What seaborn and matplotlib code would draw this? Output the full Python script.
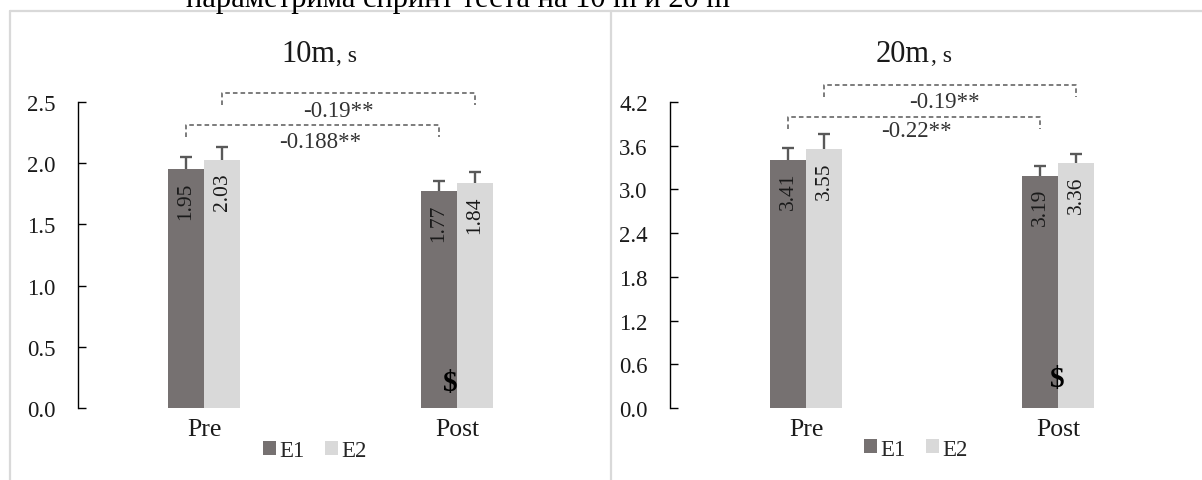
import numpy as np
import pandas as pd
import seaborn as sns
import matplotlib
matplotlib.use("Agg")
import matplotlib.pyplot as plt
from matplotlib.lines import Line2D

# ---------------- data ----------------
phases = ["Pre", "Post"]
groups = ["E1", "E2"]

t10_e1 = [1.95, 1.77]
t10_e2 = [2.03, 1.84]
t10_sd_e1 = [0.10, 0.085]
t10_sd_e2 = [0.10, 0.09]

t20_e1 = [3.41, 3.19]
t20_e2 = [3.55, 3.36]
t20_sd_e1 = [0.16, 0.13]
t20_sd_e2 = [0.21, 0.13]

t10_diff_labels = ["-0.188**", "-0.19**"]   # E1 Pre->Post, E2 Pre->Post
t20_diff_labels = ["-0.22**", "-0.19**"]

t10_ticks = [0.0, 0.5, 1.0, 1.5, 2.0, 2.5]
t20_ticks = [0.0, 0.6, 1.2, 1.8, 2.4, 3.0, 3.6, 4.2]

caption = "параметрима спринт теста на 10 m и 20 m"

# ---------------- style ----------------
sns.set_style("white")
plt.rcParams["font.family"] = ["Liberation Serif", "DejaVu Serif"]

C_E1 = "#767171"
C_E2 = "#d9d9d9"
C_ERR = "#595959"
C_BORDER = "#d9d9d9"

W, H = 1202, 481
fig = plt.figure(figsize=(W / 100, H / 100), dpi=100)


def px_axes(left, right, bottom, top):
    return fig.add_axes([left / W, 1 - bottom / H, (right - left) / W, (bottom - top) / H])


panels = [
    dict(title="10m", e1=t10_e1, e2=t10_e2, sd1=t10_sd_e1, sd2=t10_sd_e2,
         ticks=t10_ticks, diffs=t10_diff_labels,
         box=(78, 583, 409, 103), xlim=(-0.498, 1.498),
         title_x=335, legend_x=0.469, legend_y=-0.14,
         br_y=[(2.312, 2.214), (2.574, 2.475)], br_lab=[(0.458, 2.18), (0.53, 2.43)],
         dollar=(0.975, 0.21)),
    dict(title="20m", e1=t20_e1, e2=t20_e2, sd1=t20_sd_e1, sd2=t20_sd_e2,
         ticks=t20_ticks, diffs=t20_diff_labels,
         box=(670, 1194, 409, 103), xlim=(-0.54, 1.54),
         title_x=930, legend_x=0.469, legend_y=-0.134,
         br_y=[(3.994, 3.83), (4.433, 4.268)], br_lab=[(0.44, 3.815), (0.55, 4.20)],
         dollar=(0.996, 0.40)),
]

for p in panels:
    l, r, b, t = p["box"]
    ax = px_axes(l, r, b, t)
    df = pd.DataFrame({
        "phase": phases * 2,
        "group": [groups[0]] * 2 + [groups[1]] * 2,
        "value": list(p["e1"]) + list(p["e2"]),
    })
    sns.barplot(data=df, x="phase", y="value", hue="group", order=phases,
                hue_order=groups, palette=[C_E1, C_E2], width=0.285,
                errorbar=None, saturation=1, ax=ax, legend=True, linewidth=0)
    ax.set_xlim(*p["xlim"])
    ax.set_ylim(p["ticks"][0], p["ticks"][-1])
    ax.set_yticks(p["ticks"])
    ax.set_yticklabels([f"{v:.1f}" for v in p["ticks"]])
    ax.set_xlabel("")
    ax.set_ylabel("")
    for s in ["top", "right", "bottom"]:
        ax.spines[s].set_visible(False)
    ax.spines["left"].set_color("black")
    ax.spines["left"].set_linewidth(1.0)
    ax.tick_params(axis="y", left=True, direction="in", length=6, width=1, color="black",
                   labelsize=16.5, pad=16, labelcolor="#1a1a1a")
    ax.tick_params(axis="x", bottom=False, length=0, labelsize=18.5, pad=7, labelcolor="#1a1a1a")

    # error bars (upper only) and value labels from the bar geometry
    sds = [p["sd1"], p["sd2"]]
    centers = []
    for gi, cont in enumerate(ax.containers[:2]):
        xs, ys = [], []
        for patch in cont.patches:
            xs.append(patch.get_x() + patch.get_width() / 2)
            ys.append(patch.get_height())
        centers.append(xs)
        _, caps, _ = ax.errorbar(xs, ys, yerr=[np.zeros(len(ys)), sds[gi]], fmt="none",
                                 ecolor=C_ERR, elinewidth=1.7, capsize=4.3, capthick=1.7,
                                 zorder=3)
        for c in caps:
            if np.allclose(np.asarray(c.get_ydata(), dtype=float), ys):
                c.set_visible(False)
        for x, y in zip(xs, ys):
            ax.annotate(f"{y:.2f}", (x, y), xytext=(0, -9), textcoords="offset points",
                        rotation=90, ha="center", va="top", fontsize=15.5, color="#1a1a1a")

    # significance brackets
    for k in range(2):
        x0, x1 = centers[k][0], centers[k][1]
        yt, yl = p["br_y"][k]
        ax.plot([x0, x0, x1, x1], [yl, yt, yt, yl], ls=(0, (3, 2)), color=C_ERR,
                lw=1.1, clip_on=False)
        lx, ly = p["br_lab"][k]
        ax.text(lx, ly, p["diffs"][k], ha="center", va="center", fontsize=16.5,
                color="#333333", clip_on=False)

    # dollar mark
    dx, dy = p["dollar"]
    ax.text(dx, dy, "$", ha="center", va="center", fontsize=21, fontweight="bold",
            color="black")

    # legend
    leg = ax.get_legend()
    handles, labels = ax.get_legend_handles_labels()
    if leg is not None:
        leg.remove()
    ax.legend(handles[:2], labels[:2], loc="center", bbox_to_anchor=(p["legend_x"], p["legend_y"]),
              ncol=2, frameon=False, fontsize=16.5, handlelength=0.55, handleheight=0.55,
              handletextpad=0.15, columnspacing=0.9, borderaxespad=0)

    # title: "10m" large + ", s" smaller
    ty = 1 - 62 / H
    fig.text(p["title_x"] / W, ty, p["title"], ha="right", va="baseline",
             fontsize=22, color="#1a1a1a")
    fig.text((p["title_x"] + 1) / W, ty, ", s", ha="left", va="baseline",
             fontsize=17, color="#1a1a1a")

# panel borders
fig.add_artist(Line2D([10 / W, 1.0], [1 - 12 / H, 1 - 12 / H], color=C_BORDER, lw=1.6,
                      transform=fig.transFigure))
for xv in (10, 611):
    fig.add_artist(Line2D([xv / W, xv / W], [0, 1 - 12 / H], color=C_BORDER, lw=1.6,
                          transform=fig.transFigure))

# caption, cut by the top edge as in the source
fig.text(186 / W, 1 - 7 / H, caption, ha="left", va="baseline", fontsize=22, color="black")

fig.savefig("out.png", dpi=100)
